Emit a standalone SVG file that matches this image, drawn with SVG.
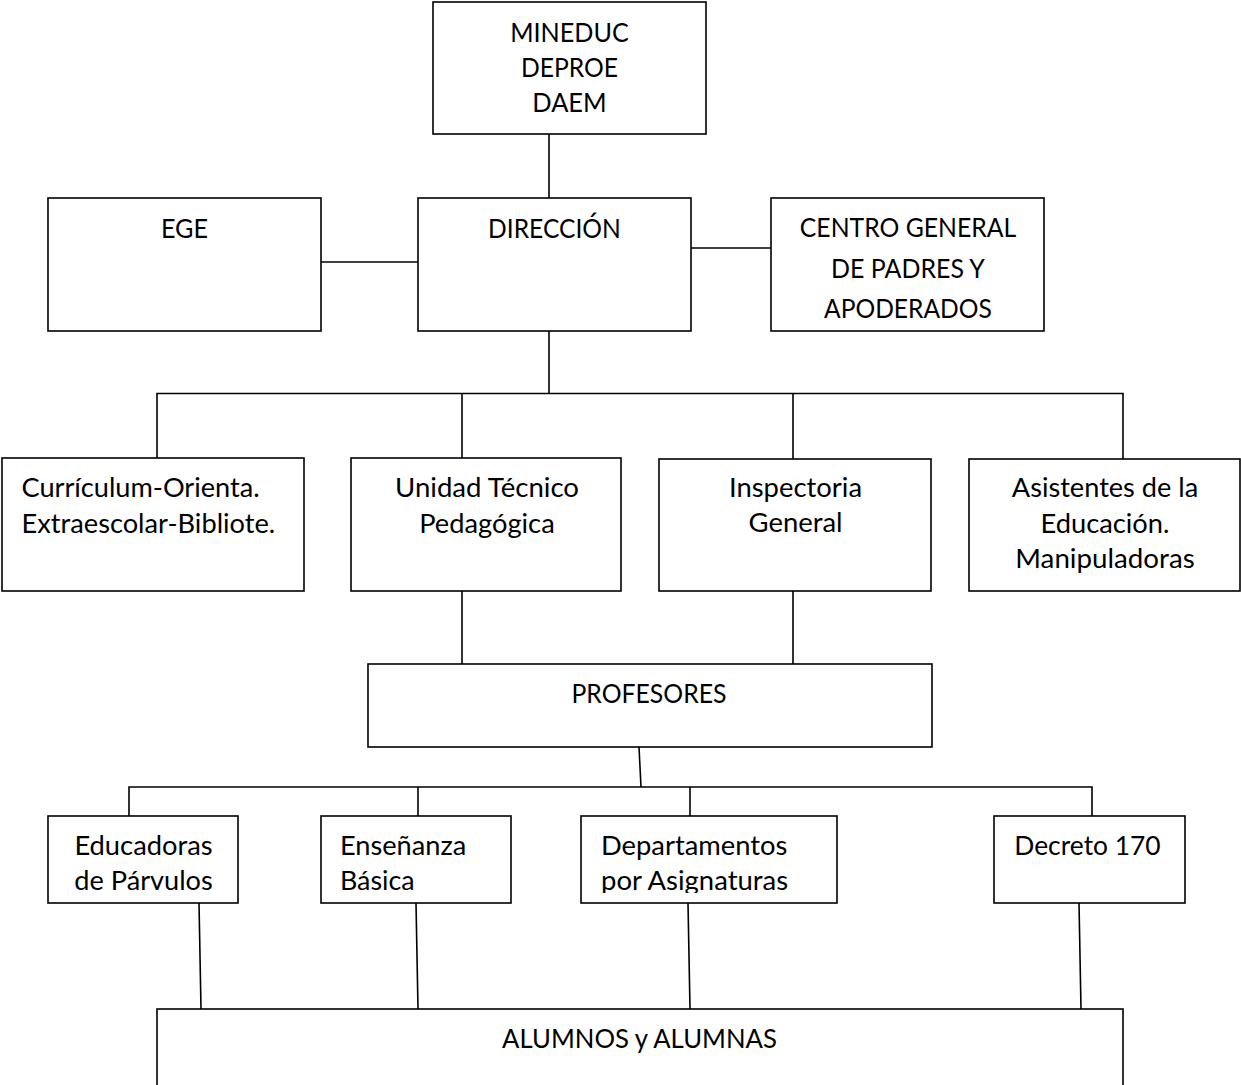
<svg xmlns="http://www.w3.org/2000/svg" width="1241" height="1085" viewBox="0 0 1241 1085">
<style>
.box{fill:#fff;stroke:#000;stroke-width:1.6}
.ln{fill:none;stroke:#000;stroke-width:1.6}
text{font-family:Lato,"Liberation Sans",sans-serif;font-size:26.5px;fill:#000}
</style>
<defs>
<clipPath id="clipEns"><rect x="321" y="816" width="190" height="77"/></clipPath>
<clipPath id="clipDep"><rect x="581" y="816" width="256" height="77"/></clipPath>
</defs>
<rect width="1241" height="1085" fill="#fff"/>
<g id="connectors">
<path class="ln" d="M549 134V198"/>
<path class="ln" d="M321 262H418"/>
<path class="ln" d="M691 248H771"/>
<path class="ln" d="M549 331V393.5"/>
<path class="ln" d="M157 458V393.5H1123V459"/>
<path class="ln" d="M462 393.5V458"/>
<path class="ln" d="M793 393.5V459"/>
<path class="ln" d="M462 591V664"/>
<path class="ln" d="M793 591V664"/>
<path class="ln" d="M639 747L641 787"/>
<path class="ln" d="M129 816V787H1092V816"/>
<path class="ln" d="M418 787V816"/>
<path class="ln" d="M690 787V816"/>
<path class="ln" d="M199 903L201 1009"/>
<path class="ln" d="M416 903L418 1009"/>
<path class="ln" d="M688 903L690 1009"/>
<path class="ln" d="M1079 903L1081 1009"/>
</g>
<g id="mineduc">
<rect class="box" x="433" y="2" width="273" height="132"/>
<text x="510.2" y="42" textLength="118.6" lengthAdjust="spacingAndGlyphs">MINEDUC</text>
<text x="520.9" y="77" textLength="97.2" lengthAdjust="spacingAndGlyphs">DEPROE</text>
<text x="532.3" y="112" textLength="74.4" lengthAdjust="spacingAndGlyphs">DAEM</text>
</g>
<g id="ege">
<rect class="box" x="48" y="198" width="273" height="133"/>
<text x="160.9" y="238" textLength="47.1" lengthAdjust="spacingAndGlyphs">EGE</text>
</g>
<g id="direccion">
<rect class="box" x="418" y="198" width="273" height="133"/>
<text x="488.1" y="238" textLength="132.7" lengthAdjust="spacingAndGlyphs">DIRECCIÓN</text>
</g>
<g id="centro-padres">
<rect class="box" x="771" y="198" width="273" height="133"/>
<text x="799.8" y="237" textLength="216.4" lengthAdjust="spacingAndGlyphs">CENTRO GENERAL</text>
<text x="831.1" y="278" textLength="153.8" lengthAdjust="spacingAndGlyphs">DE PADRES Y</text>
<text x="824.1" y="318" textLength="167.7" lengthAdjust="spacingAndGlyphs">APODERADOS</text>
</g>
<g id="curriculum">
<rect class="box" x="2" y="458" width="302" height="133"/>
<text x="21.5" y="497" textLength="238.2" lengthAdjust="spacingAndGlyphs">Currículum-Orienta.</text>
<text x="21.5" y="533" textLength="253.8" lengthAdjust="spacingAndGlyphs">Extraescolar-Bibliote.</text>
</g>
<g id="utp">
<rect class="box" x="351" y="458" width="270" height="133"/>
<text x="395" y="497" textLength="184" lengthAdjust="spacingAndGlyphs">Unidad Técnico</text>
<text x="419.2" y="533" textLength="135.5" lengthAdjust="spacingAndGlyphs">Pedagógica</text>
</g>
<g id="inspectoria">
<rect class="box" x="659" y="459" width="272" height="132"/>
<text x="729" y="497" textLength="133" lengthAdjust="spacingAndGlyphs">Inspectoria</text>
<text x="748.5" y="532" textLength="94.1" lengthAdjust="spacingAndGlyphs">General</text>
</g>
<g id="asistentes">
<rect class="box" x="969" y="459" width="271" height="132"/>
<text x="1011.8" y="497" textLength="186.4" lengthAdjust="spacingAndGlyphs">Asistentes de la</text>
<text x="1040.5" y="533" textLength="128.9" lengthAdjust="spacingAndGlyphs">Educación.</text>
<text x="1015.3" y="568" textLength="179.4" lengthAdjust="spacingAndGlyphs">Manipuladoras</text>
</g>
<g id="profesores">
<rect class="box" x="368" y="664" width="564" height="83"/>
<text x="571.5" y="703" textLength="154.9" lengthAdjust="spacingAndGlyphs">PROFESORES</text>
</g>
<g id="educadoras">
<rect class="box" x="48" y="816" width="190" height="87"/>
<text x="74.4" y="855" textLength="138.2" lengthAdjust="spacingAndGlyphs">Educadoras</text>
<text x="74.3" y="890" textLength="138.4" lengthAdjust="spacingAndGlyphs">de Párvulos</text>
</g>
<g id="ensenanza">
<rect class="box" x="321" y="816" width="190" height="87"/>
<g clip-path="url(#clipEns)">
<text x="340" y="855" textLength="126.3" lengthAdjust="spacingAndGlyphs">Enseñanza</text>
<text x="340" y="890" textLength="74.6" lengthAdjust="spacingAndGlyphs">Básica</text>
</g>
</g>
<g id="departamentos">
<rect class="box" x="581" y="816" width="256" height="87"/>
<g clip-path="url(#clipDep)">
<text x="601" y="855" textLength="186.4" lengthAdjust="spacingAndGlyphs">Departamentos</text>
<text x="601" y="890" textLength="187.1" lengthAdjust="spacingAndGlyphs">por Asignaturas</text>
</g>
</g>
<g id="decreto">
<rect class="box" x="994" y="816" width="191" height="87"/>
<text x="1014.3" y="855" textLength="146.4" lengthAdjust="spacingAndGlyphs">Decreto 170</text>
</g>
<g id="alumnos">
<rect class="box" x="157" y="1009" width="966" height="90"/>
<text x="502.1" y="1048" textLength="274.8" lengthAdjust="spacingAndGlyphs">ALUMNOS y ALUMNAS</text>
</g>
</svg>
